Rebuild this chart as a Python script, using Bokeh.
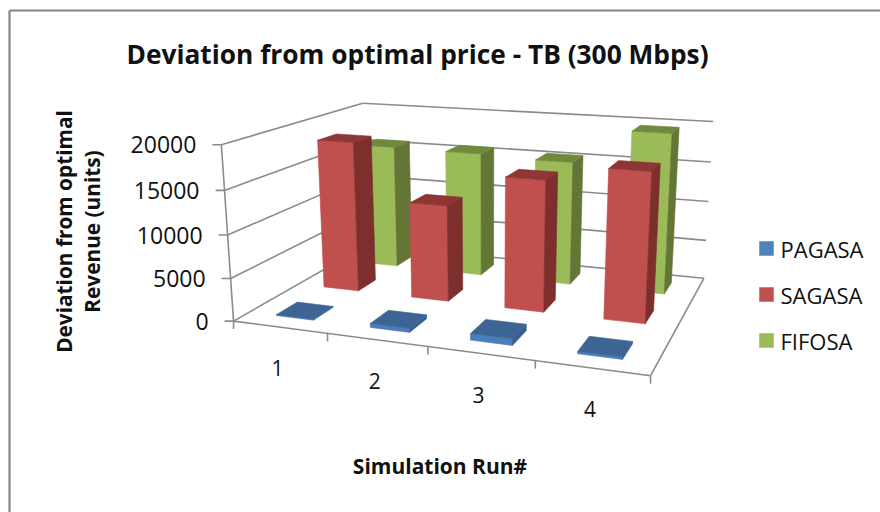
import numpy as np
from bokeh.plotting import figure
from bokeh.models import ColumnDataSource
from bokeh.core.properties import value
from bokeh.embed import file_html
from bokeh.resources import INLINE

TITLE = "Deviation from optimal price - TB (300 Mbps)"
RUNS = ["1", "2", "3", "4"]
Z_TICKS = [0, 5000, 10000, 15000, 20000]
PAGASA = [100, 450, 750, 250]
SAGASA = [18300, 11600, 15500, 17300]
FIFOSA = [15800, 15700, 15400, 19600]
FONT = "Open Sans"

# perspective camera fitted on the box corners (x run, y row, z value)
box_pts = [((0, 0, 0), (232, 321)), ((4, 0, 0), (650, 375)), ((0, 3, 0), (368, 244)),
           ((4, 3, 0), (703, 278)), ((0, 0, 20000), (222, 144)),
           ((0, 3, 20000), (361, 103)), ((4, 3, 20000), (713, 121))]
A, b = [], []
for (X, Y, Z), (u, v) in box_pts:
    Z = Z / 20000
    A.append([X, Y, Z, 1, 0, 0, 0, 0, -u * X, -u * Y, -u * Z]); b.append(u)
    A.append([0, 0, 0, 0, X, Y, Z, 1, -v * X, -v * Y, -v * Z]); b.append(v)
h = np.append(np.linalg.lstsq(np.array(A, float), np.array(b, float), rcond=None)[0], 1.0)
P = h.reshape(3, 4)

def proj(x, y, z):
    q = P @ np.array([x, y, z / 20000, 1.0])
    return q[0] / q[2], q[1] / q[2]

p = figure(width=880, height=512, x_range=(0, 880), y_range=(512, 0), toolbar_location=None,
           output_backend="svg", min_border=0, outline_line_color=None, background_fill_color="white")
p.axis.visible = False
p.grid.visible = False

GREY = "#8b8b8b"
def lines(segs, color=GREY, width=1.6):
    p.multi_line([[a[0], c[0]] for a, c in segs], [[a[1], c[1]] for a, c in segs],
                  line_color=color, line_width=width)

# chart frame
lines([((9, 10), (880, 10)), ((9, 10), (9, 512))], "#868686", 2.2)

# walls, floor, ticks
grid = []
for z in Z_TICKS:
    grid.append((proj(0, 0, z), proj(0, 3, z)))
    grid.append((proj(0, 3, z), proj(4, 3, z)))
    a = proj(0, 0, z)
    grid.append((a, (a[0] - 9, a[1])))
grid.append((proj(0, 0, 0), proj(0, 0, 20000)))
grid.append((proj(0, 0, 0), proj(4, 0, 0)))
grid.append((proj(4, 0, 0), proj(4, 3, 0)))
for i in range(len(RUNS) + 1):
    a = proj(i, 0, 0)
    grid.append((a, (a[0], a[1] + 8)))
lines(grid)

BW, BD = 0.40, 0.42
def bars(vals, row, front, side, top):
    xs, ys, cs = [], [], []
    for i, v in enumerate(vals):
        x0, x1 = i + .5 - BW / 2, i + .5 + BW / 2
        y0, y1 = row + .5 - BD / 2, row + .5 + BD / 2
        faces = [([(x0, y0, 0), (x1, y0, 0), (x1, y0, v), (x0, y0, v)], front),
                 ([(x1, y0, 0), (x1, y1, 0), (x1, y1, v), (x1, y0, v)], side),
                 ([(x0, y0, v), (x1, y0, v), (x1, y1, v), (x0, y1, v)], top)]
        for corners, c in faces:
            pts = [proj(*k) for k in corners]
            xs.append([q[0] for q in pts]); ys.append([q[1] for q in pts]); cs.append(c)
    p.patches("xs", "ys", fill_color="cs", line_color="cs", line_width=0.6,
              source=ColumnDataSource(dict(xs=xs, ys=ys, cs=cs)))

bars(FIFOSA, 2, "#9BBB59", "#647636", "#6F8A3C")
bars(SAGASA, 1, "#C0504D", "#7C2F2D", "#8E3634")
bars(PAGASA, 0, "#4A7EBB", "#37608F", "#3C6594")

def txt(x, y, s, size, bold=False, align="center", angle=0.0):
    p.text([x], [y], text=[s], text_font=value(FONT), text_font_size=f"{size}px",
           text_font_style="bold" if bold else "normal", text_color="#111111",
           text_align=align, text_baseline="middle", angle=angle)

txt(417, 53, TITLE, 26.3, True)
for z in Z_TICKS:
    a = proj(0, 0, z)
    txt(a[0] - 25, a[1], str(z), 23, align="right")
for i, r in enumerate(RUNS):
    a, c = proj(i, 0, 0), proj(i + 1, 0, 0)
    txt((a[0] + c[0]) / 2 - 3, (a[1] + c[1]) / 2 + 41, r, 21)
txt(63, 231, "Deviation from optimal", 20.8, True, angle=np.pi / 2)
txt(91, 231, "Revenue (units)", 20.8, True, angle=np.pi / 2)
txt(439.5, 465, "Simulation Run#", 21, True)

names = ["PAGASA", "SAGASA", "FIFOSA"]
cols = ["#4F81BD", "#C0504D", "#9BBB59"]
for k, (n, c) in enumerate(zip(names, cols)):
    y = 248 + 46 * k
    p.rect([766], [y], width=14, height=14, fill_color=c, line_color=c, line_width=0.5)
    txt(780, y, n, 22, align="left")

open("out.html", "w").write(file_html(p, INLINE))
